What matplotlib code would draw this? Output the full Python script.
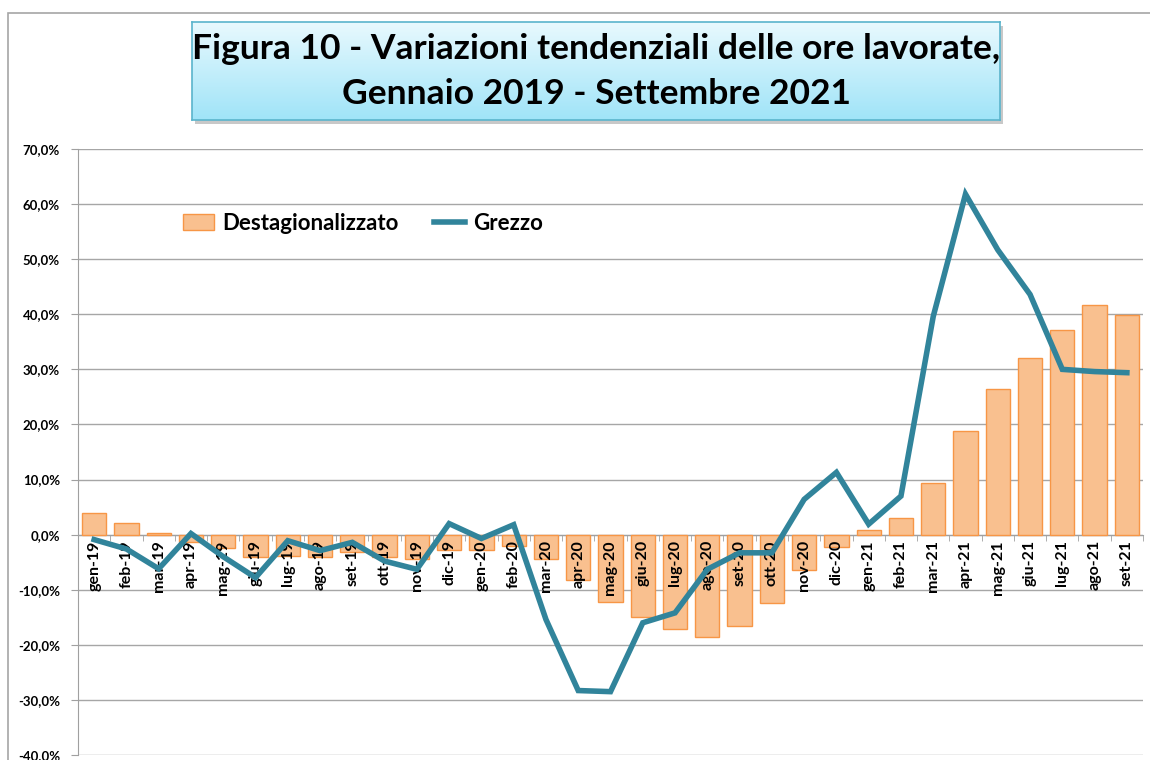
import numpy as np
import matplotlib
matplotlib.use("Agg")
import matplotlib.pyplot as plt
from matplotlib.patches import Rectangle
from matplotlib.ticker import FixedLocator, FuncFormatter
from matplotlib.transforms import offset_copy

categories = ["gen-19", "feb-19", "mar-19", "apr-19", "mag-19", "giu-19", "lug-19", "ago-19",
              "set-19", "ott-19", "nov-19", "dic-19", "gen-20", "feb-20", "mar-20", "apr-20",
              "mag-20", "giu-20", "lug-20", "ago-20", "set-20", "ott-20", "nov-20", "dic-20",
              "gen-21", "feb-21", "mar-21", "apr-21", "mag-21", "giu-21", "lug-21", "ago-21",
              "set-21"]
destag = [4.0, 2.2, 0.3, -1.3, -2.5, -4.0, -3.8, -4.0, -3.1, -4.0, -4.4, -2.7,
          -2.7, -2.0, -4.4, -8.2, -12.3, -15.0, -17.1, -18.5, -16.5, -12.4, -6.5, -2.2,
          0.9, 3.0, 9.4, 18.8, 26.4, 32.1, 37.2, 41.7, 39.8]
grezzo = [-0.9, -2.6, -6.2, 0.2, -4.0, -7.8, -1.1, -2.9, -1.4, -4.8, -6.3, 2.0,
          -0.7, 1.8, -15.4, -28.3, -28.5, -16.0, -14.2, -6.3, -3.3, -3.3, 6.4, 11.3,
          1.9, 7.0, 39.6, 61.8, 51.7, 43.6, 30.0, 29.6, 29.4]
yticks = [-40, -30, -20, -10, 0, 10, 20, 30, 40, 50, 60, 70]
title_lines = ["Figura 10 - Variazioni tendenziali delle ore lavorate,",
               "Gennaio 2019 - Settembre 2021"]

FONT = ["Lato", "DejaVu Sans"]
plt.rcParams["font.family"] = FONT

W, H = 1150, 760
fig = plt.figure(figsize=(W / 100, H / 100), dpi=100)

# outer chart border
fig.add_artist(Rectangle((8 / W, -0.05), 1.2, (H - 13) / H + 0.05, transform=fig.transFigure,
                         fill=False, edgecolor="#a6a6a6", lw=1.2))

# title box with gradient
tx0, tx1, ty0, ty1 = 192, 1000, 22, 120
fig.add_artist(Rectangle(((tx0 + 3) / W, (H - ty1 - 4) / H), (tx1 - tx0) / W, (ty1 - ty0) / H,
                         transform=fig.transFigure, facecolor="#c8c8c8", edgecolor="none", zorder=1))
tax = fig.add_axes([tx0 / W, (H - ty1) / H, (tx1 - tx0) / W, (ty1 - ty0) / H], zorder=2)
grad = np.linspace(0, 1, 100).reshape(-1, 1)
c_top = np.array([0xe8, 0xf9, 0xfe]) / 255
c_bot = np.array([0xa0, 0xe4, 0xf8]) / 255
img = c_top[None, None, :] * (1 - grad[:, :, None]) + c_bot[None, None, :] * grad[:, :, None]
tax.imshow(img, aspect="auto", extent=[0, 1, 0, 1], origin="upper")
tax.set_xlim(0, 1)
tax.set_ylim(0, 1)
tax.set_xticks([])
tax.set_yticks([])
for s in tax.spines.values():
    s.set_edgecolor("#5ab4cc")
    s.set_linewidth(1.2)
tax.text(0.5, 0.72, title_lines[0], ha="center", va="center", fontsize=25.5,
         fontweight="bold", color="black")
tax.text(0.5, 0.27, title_lines[1], ha="center", va="center", fontsize=25.5,
         fontweight="bold", color="black")

# main axes
left, right, top, bottom = 78, 1143, 149, 755
ax = fig.add_axes([left / W, (H - bottom) / H, (right - left) / W, (bottom - top) / H])
x = np.arange(len(categories))
bars = ax.bar(x, destag, width=0.75, color="#f9c08f", edgecolor="#f79646", linewidth=1.0,
              zorder=3, label="Destagionalizzato")
line, = ax.plot(x, grezzo, color="#31849b", lw=4.0, zorder=5, label="Grezzo",
                solid_joinstyle="miter")

ax.set_xlim(-0.5, len(categories) - 0.5)
ax.set_ylim(-40, 70)
ax.set_yticks(yticks)
ax.yaxis.set_major_formatter(FuncFormatter(lambda v, p: f"{v:.1f}%".replace(".", ",")))
for lab in ax.get_yticklabels():
    lab.set_fontweight("bold")
ax.tick_params(axis="y", labelsize=9.5, length=5, color="#a0a0a0", pad=8)
ax.grid(axis="y", color="#a6a6a6", lw=1.0, zorder=0)
ax.set_axisbelow(True)

ax.spines["top"].set_visible(False)
ax.spines["right"].set_visible(False)
ax.spines["left"].set_color("#a0a0a0")
ax.spines["bottom"].set_position(("data", 0))
ax.spines["bottom"].set_color("#a0a0a0")
ax.spines["bottom"].set_zorder(2)

# category labels drawn over the bars, under the line
ax.set_xticks(x)
ax.set_xticklabels([])
ax.tick_params(axis="x", length=0)
ax.xaxis.set_minor_locator(FixedLocator(np.arange(-0.5, len(categories), 1.0)))
ax.tick_params(axis="x", which="minor", length=4, color="#a0a0a0", direction="out")
lab_tr = offset_copy(ax.transData, fig=fig, x=0, y=-4, units="points")
for xi, c in zip(x, categories):
    ax.text(xi, 0, c, rotation=90, ha="center", va="top", fontsize=11.5,
            fontweight="bold", transform=lab_tr, zorder=4)

ax.legend([bars, line], ["Destagionalizzato", "Grezzo"], loc="upper left",
          bbox_to_anchor=(0.08, 0.928), ncol=2, frameon=False,
          prop={"weight": "bold", "size": 16}, handlelength=1.4, handleheight=0.75,
          columnspacing=1.6, handletextpad=0.35)

fig.savefig("out.png", dpi=100)
